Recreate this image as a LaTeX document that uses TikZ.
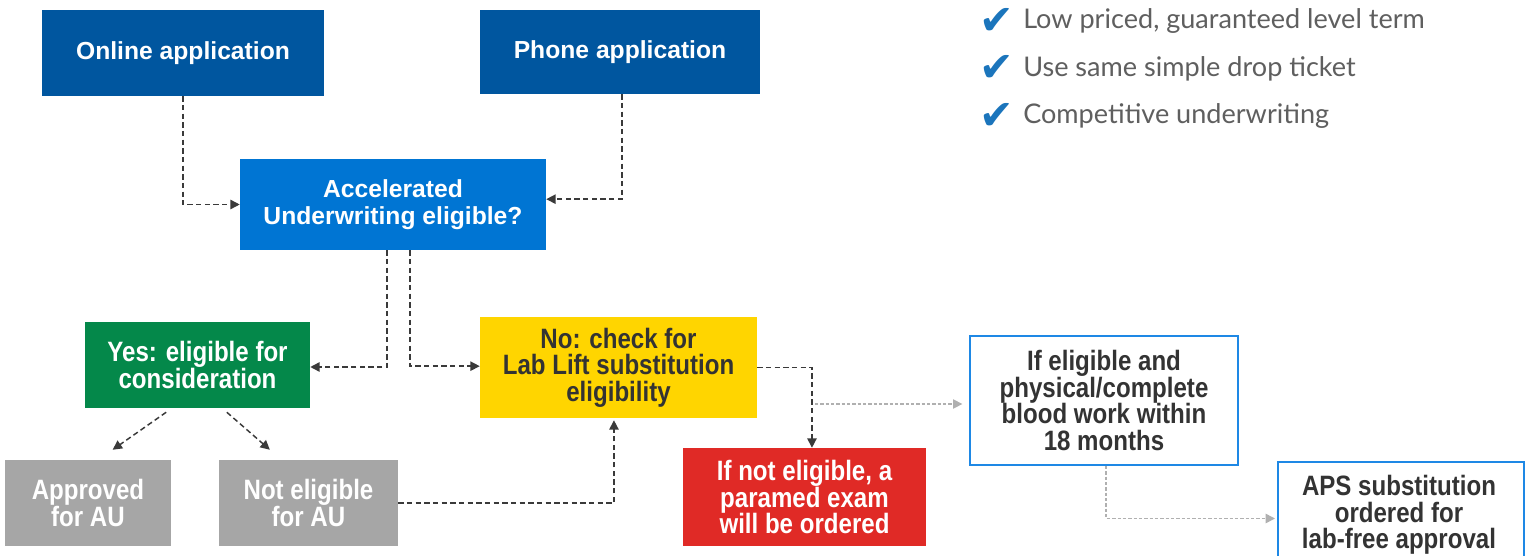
\documentclass[tikz,border=0pt]{standalone}
\usepackage{fontspec}
\setmainfont{Liberation Sans}
\newfontfamily\narrowfont[FakeStretch=0.86]{Liberation Sans}
\newfontfamily\listfont{Lato}
\newfontfamily\symfont{DejaVu Sans}
\usetikzlibrary{arrows.meta}
\definecolor{dblue}{HTML}{00569F}
\definecolor{ablue}{HTML}{0075D3}
\definecolor{dgreen}{HTML}{04884A}
\definecolor{yel}{HTML}{FFD500}
\definecolor{dred}{HTML}{E02A26}
\definecolor{gbox}{HTML}{A6A6A6}
\definecolor{dtext}{HTML}{333333}
\definecolor{ltext}{HTML}{5F5F5F}
\definecolor{chk}{HTML}{1B75BC}
\definecolor{obord}{HTML}{1E88E5}
\definecolor{conn}{HTML}{3A3A3A}
\definecolor{gconn}{HTML}{B0B0B0}
\tikzset{
  boxbase/.style={inner sep=0pt, align=center, font=\bfseries},
  wide/.style={boxbase, text=white, font=\fontsize{18.5}{20}\selectfont\bfseries},
  narrowbox/.style={boxbase, font=\narrowfont\fontsize{21}{20}\selectfont\bfseries},
  outline/.style={narrowbox, draw=obord, line width=1.5pt, fill=white, text=dtext},
  conline/.style={draw=conn, line width=1.1pt, dash pattern=on 4pt off 2.5pt, -{Triangle[length=7pt,width=7pt]}},
  grayline/.style={draw=gconn, line width=1.1pt, dash pattern=on 2.5pt off 1.5pt, -{Triangle[length=7pt,width=7pt]}},
  listitem/.style={anchor=west, inner sep=0pt, text=ltext, font=\listfont\fontsize{20.3}{22}\selectfont},
  checkmk/.style={inner sep=0pt, text=chk, font=\symfont\fontsize{31}{32}\selectfont}
}
\begin{document}
\begin{tikzpicture}[x=0.75pt,y=-0.75pt]
\clip (0,0) rectangle (1527,556);
\fill[white] (0,0) rectangle (1527,556);
% boxes
\node[wide, fill=dblue, minimum width=211.5pt, minimum height=64.5pt] (online) at (183,53) {Online application};
\node[wide, fill=dblue, minimum width=210pt, minimum height=63pt] (phone) at (620,52) {Phone application};
\node[wide, fill=ablue, minimum width=229.5pt, minimum height=68.25pt] (accel) at (393,204.5) {Accelerated\\Underwriting eligible?};
\node[narrowbox, fill=dgreen, text=white, minimum width=168.75pt, minimum height=64.5pt] (yes) at (197.5,365) {Yes: eligible for\\consideration};
\node[narrowbox, fill=yel, text=dtext, minimum width=207.75pt, minimum height=75.75pt] (no) at (618.5,367.5) {No: check for\\Lab Lift substitution\\eligibility};
\node[narrowbox, fill=gbox, text=white, minimum width=124.5pt, minimum height=64.5pt] (appr) at (88,503) {Approved\\for AU};
\node[narrowbox, fill=gbox, text=white, minimum width=134.25pt, minimum height=64.5pt] (notel) at (308.5,503) {Not eligible\\for AU};
\node[narrowbox, fill=dred, text=white, minimum width=182.25pt, minimum height=73.5pt] (red) at (804.5,497) {If not eligible, a\\paramed exam\\will be ordered};
\node[outline, minimum width=201pt, minimum height=96.75pt] (ifel) at (1104,400.5) {If eligible and\\physical/complete\\blood work within\\18 months};
\node[outline, minimum width=184.5pt, minimum height=82pt] (aps) at (1401,516.5) {};
\node[narrowbox, text=dtext] (apstext) at (1399,515) {APS substitution\\ordered for\\lab-free approval};
% connectors
\draw[conline] (online.south) |- (accel.west);
\draw[conline] ([xshift=1.5pt]phone.south) |- ([yshift=4pt]accel.east);
\draw[conline] ([xshift=-4.5pt]accel.south) |- ([yshift=-1.5pt]yes.east);
\draw[conline] ([xshift=12.75pt]accel.south) |- ([yshift=1pt]no.west);
\draw[conline] ([xshift=-23.5pt,yshift=-3pt]yes.south) -- ([xshift=18.5pt,yshift=7.5pt]appr.north);
\draw[conline] ([xshift=22pt,yshift=-3pt]yes.south) -- ([xshift=-29pt,yshift=7.5pt]notel.north);
\draw[conline] (notel.east) -| ([xshift=-3.4pt,yshift=-1.5pt]no.south);
\draw[conline] (no.east) -| ([xshift=5.6pt]red.north);
\coordinate (g1) at (815,404);
\draw[grayline, shorten >=5pt] (g1) -- (g1 -| ifel.west);
\draw[grayline, shorten >=1.5pt] ([xshift=1.5pt]ifel.south) |- ([yshift=-1.5pt]aps.west);
% list
\node[checkmk] (c1) at (997,21) {✔};
\node[checkmk] (c2) at (997,68) {✔};
\node[checkmk] (c3) at (997,116) {✔};
\node[listitem] (l1) at (1023,21) {Low priced, guaranteed level term};
\node[listitem] (l2) at (1023,69) {Use same simple drop ticket};
\node[listitem] (l3) at (1023,116) {Competitive underwriting};
\end{tikzpicture}
\end{document}
